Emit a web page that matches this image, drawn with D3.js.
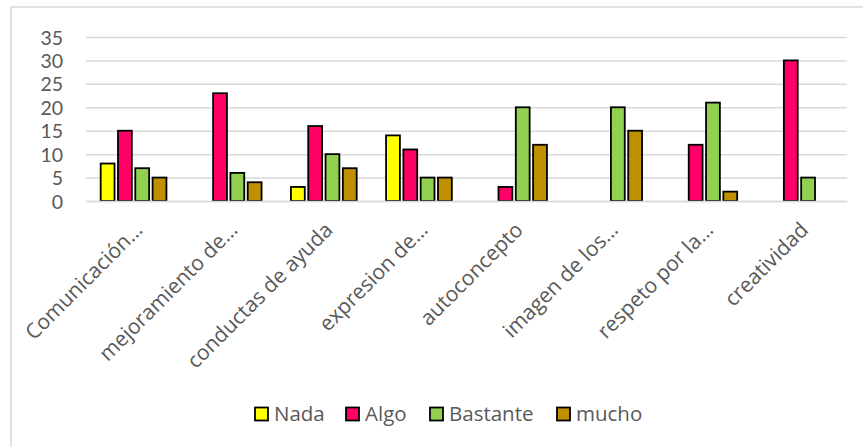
<!DOCTYPE html>
<html><head><meta charset="utf-8">
<script src="https://cdn.jsdelivr.net/npm/d3@7"></script>
<style>body{margin:0;background:#fff}svg{display:block}text{font-family:"Open Sans",sans-serif}</style>
</head><body><svg id="c" width="863" height="447"></svg>
<script>
const categories = ["Comunicación…","mejoramiento de…","conductas de ayuda","expresion de…","autoconcepto","imagen de los…","respeto por la…","creatividad"];
const seriesNames = ["Nada","Algo","Bastante","mucho"];
const seriesColors = ["#FFFF00","#FF0066","#92D050","#BF9000"];
const nada     = [8, null, 3, 14, null, null, null, null];
const algo     = [15, 23, 16, 11, 3, null, 12, 30];
const bastante = [7, 6, 10, 5, 20, 20, 21, 5];
const mucho    = [5, 4, 7, 5, 12, 15, 2, null];
const yTicks = [0,5,10,15,20,25,30,35];

const series = [nada, algo, bastante, mucho];
const svg = d3.select("#c");
const W = 863, H = 447;
const plot = {left: 86, right: 847, top: 37, bottom: 201};

// border
svg.append("rect").attr("x",11).attr("y",7).attr("width",W+20).attr("height",H+20)
  .attr("fill","none").attr("stroke","#d9d9d9").attr("stroke-width",1.5);

const x0 = d3.scaleBand().domain(categories).range([plot.left, plot.right]).padding(0);
const y = d3.scaleLinear().domain([0,35]).range([plot.bottom, plot.top]);
const groupW = 69.2;
const x1 = d3.scaleBand().domain(seriesNames).range([-groupW/2, groupW/2]).paddingInner(0.2).paddingOuter(0.1);

// gridlines
const yAxis = d3.axisLeft(y).tickValues(yTicks).tickSize(-(plot.right-plot.left)).tickPadding(0);
const gy = svg.append("g").attr("transform",`translate(${plot.left},0)`).call(yAxis);
gy.select(".domain").remove();
gy.selectAll(".tick line").attr("stroke","#d9d9d9").attr("stroke-width",1.5);
gy.selectAll(".tick text").attr("x",-23).attr("fill","#595959")
  .style("font-family","Lato, 'Open Sans', sans-serif").style("font-size","19.5px")
  .attr("dy","0.36em");

// bars
const groups = svg.append("g").selectAll("g").data(categories).join("g")
  .attr("transform", c => `translate(${x0(c)+x0.bandwidth()/2},0)`);
groups.selectAll("rect").data((c,i) => seriesNames.map((s,k) => ({s, k, v: series[k][i]})).filter(d => d.v != null))
  .join("rect")
  .attr("x", d => x1(d.s))
  .attr("width", x1.bandwidth())
  .attr("y", d => y(d.v))
  .attr("height", d => y(0) - y(d.v))
  .attr("fill", d => seriesColors[d.k])
  .attr("stroke","#000").attr("stroke-width",1.8);

// x axis labels
const xAxis = d3.axisBottom(x0).tickSize(0).tickPadding(0);
const gx = svg.append("g").attr("transform",`translate(0,${plot.bottom})`).call(xAxis);
gx.select(".domain").attr("stroke","#d9d9d9").attr("stroke-width",1.5);
gx.selectAll(".tick text")
  .attr("text-anchor","end").attr("fill","#595959").style("font-size","21px")
  .attr("dy","0.35em").attr("y",0)
  .attr("transform","translate(5,25) rotate(-45)");

// legend
const legX = [255, 346, 430, 557];
const lg = svg.append("g").selectAll("g").data(seriesNames).join("g")
  .attr("transform",(d,i)=>`translate(${legX[i]},414)`);
lg.append("rect").attr("x",0).attr("y",-6.5).attr("width",13).attr("height",13)
  .attr("fill",(d,i)=>seriesColors[i]).attr("stroke","#000").attr("stroke-width",1.8);
lg.append("text").attr("x",19).attr("dy","0.35em").attr("fill","#595959").style("font-size","20.5px").text(d=>d);
</script></body></html>
